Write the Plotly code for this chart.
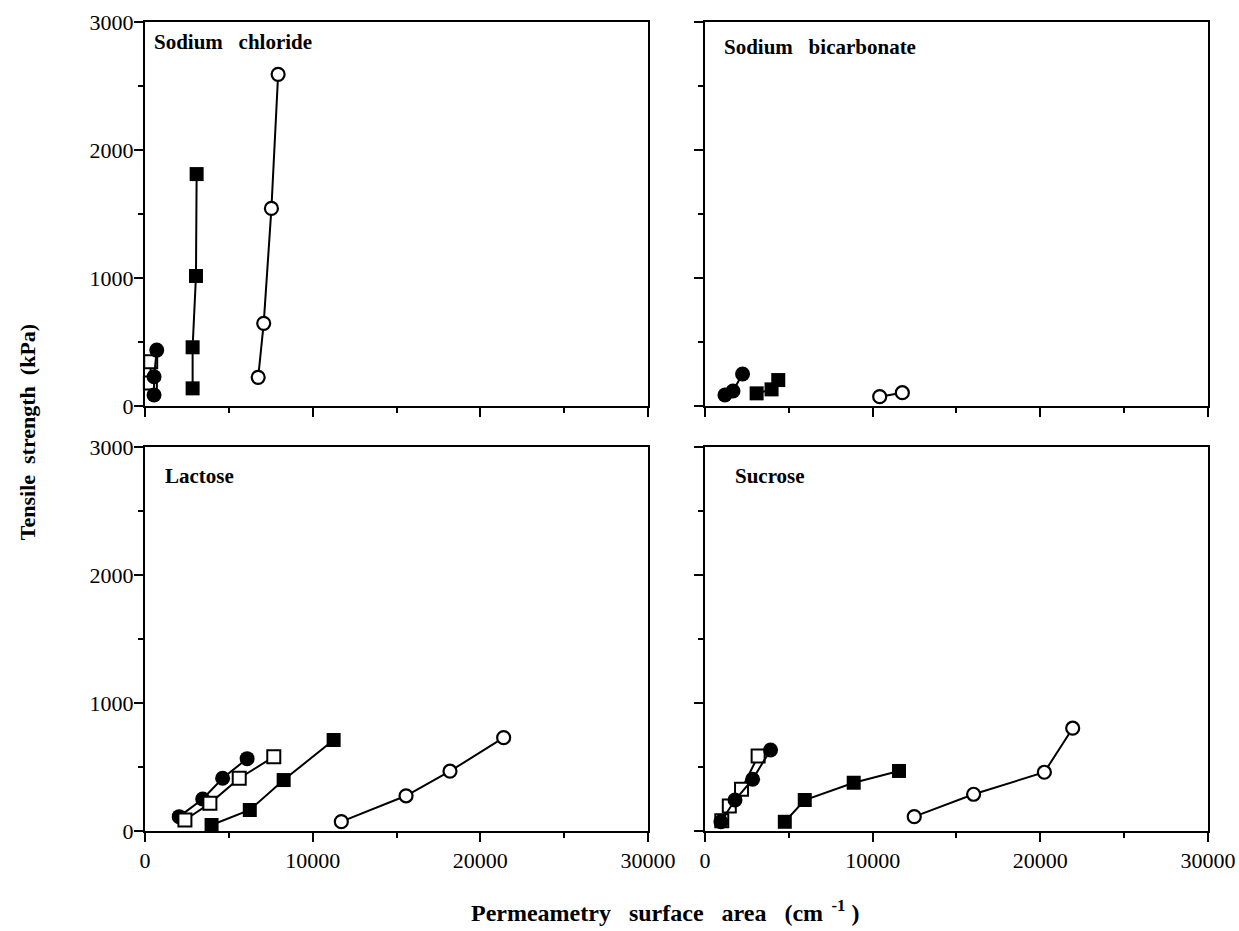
import plotly.graph_objects as go

# ---------------- data ----------------
NB2 = "\u00a0\u00a0"
NB3 = "\u00a0\u00a0\u00a0"
panel_titles = ["Sodium" + NB3 + "chloride", "Sodium" + NB3 + "bicarbonate", "Lactose", "Sucrose"]

# Sodium chloride
nacl_fc_x = [540, 540, 700]
nacl_fc_y = [86, 229, 437]
nacl_os_x = [320, 340]
nacl_os_y = [180, 346]
nacl_fs_x = [2840, 2840, 3040, 3080]
nacl_fs_y = [138, 459, 1016, 1812]
nacl_oc_x = [6750, 7080, 7540, 7940]
nacl_oc_y = [224, 646, 1544, 2591]

# Sodium bicarbonate
bic_fc_x = [1190, 1670, 2240]
bic_fc_y = [86, 117, 250]
bic_fs_x = [3080, 3970, 4370]
bic_fs_y = [99, 130, 203]
bic_oc_x = [10420, 11770]
bic_oc_y = [73, 104]

# Lactose
lac_fc_x = [2040, 3440, 4630, 6090]
lac_fc_y = [112, 250, 412, 565]
lac_os_x = [2380, 3870, 5620, 7680]
lac_os_y = [86, 216, 412, 580]
lac_fs_x = [3970, 6250, 8270, 11250]
lac_fs_y = [47, 164, 398, 711]
lac_oc_x = [11710, 15570, 18190, 21390]
lac_oc_y = [73, 275, 467, 729]

# Sucrose
suc_fc_x = [950, 1790, 2840, 3910]
suc_fc_y = [72, 242, 404, 633]
suc_os_x = [1000, 1450, 2180, 3170]
suc_os_y = [80, 195, 326, 586]
suc_fs_x = [4760, 5950, 8870, 11570]
suc_fs_y = [72, 242, 377, 469]
suc_oc_x = [12480, 16020, 20240, 21930]
suc_oc_y = [112, 287, 459, 803]

x_ticks = [0, 10000, 20000, 30000]
x_ticktext = ["0", "10000", "20000", "30000"]
y_ticks = [0, 1000, 2000, 3000]
y_ticktext = ["0", "1000", "2000", "3000"]
x_minor = [5000, 15000, 25000]
y_minor = [500, 1500, 2500]

# ---------------- styles ----------------
STYLES = {
    "oc": dict(symbol="circle", size=13, color="white", line=dict(color="black", width=2.2)),
    "os": dict(symbol="square", size=13, color="white", line=dict(color="black", width=2)),
    "fs": dict(symbol="square", size=14, color="black", line=dict(color="black", width=0)),
    "fc": dict(symbol="circle", size=15, color="black", line=dict(color="black", width=0)),
}

fig = go.Figure()

panels = [
    ("x", "y", [("oc", nacl_oc_x, nacl_oc_y), ("fs", nacl_fs_x, nacl_fs_y),
                ("os", nacl_os_x, nacl_os_y), ("fc", nacl_fc_x, nacl_fc_y)]),
    ("x2", "y2", [("oc", bic_oc_x, bic_oc_y), ("fs", bic_fs_x, bic_fs_y),
                  ("fc", bic_fc_x, bic_fc_y)]),
    ("x3", "y3", [("oc", lac_oc_x, lac_oc_y), ("fs", lac_fs_x, lac_fs_y),
                  ("fc", lac_fc_x, lac_fc_y), ("os", lac_os_x, lac_os_y)]),
    ("x4", "y4", [("oc", suc_oc_x, suc_oc_y), ("fs", suc_fs_x, suc_fs_y),
                  ("os", suc_os_x, suc_os_y), ("fc", suc_fc_x, suc_fc_y)]),
]

for xa, ya, series in panels:
    for key, xs, ys in series:
        fig.add_trace(go.Scatter(
            x=xs, y=ys, mode="lines+markers", xaxis=xa, yaxis=ya,
            line=dict(color="black", width=2),
            marker=STYLES[key], showlegend=False, hoverinfo="skip",
            cliponaxis=False,
        ))

TICKFONT = dict(family="Liberation Serif", size=22, color="black")


def xaxis(domain, anchor, labels):
    return dict(
        domain=domain, anchor=anchor, range=[0, 30000],
        tickmode="array", tickvals=x_ticks, ticktext=x_ticktext,
        showticklabels=labels, automargin=False,
        ticks="outside", ticklen=9, tickwidth=2, tickcolor="black",
        minor=dict(tickmode="array", tickvals=x_minor, ticks="outside",
                   ticklen=5, tickwidth=2, tickcolor="black"),
        showline=True, linewidth=2, linecolor="black", mirror=True,
        showgrid=False, zeroline=False, tickfont=TICKFONT,
    )


def yaxis(domain, anchor, labels):
    return dict(
        domain=domain, anchor=anchor, range=[0, 3000],
        tickmode="array", tickvals=y_ticks, ticktext=y_ticktext,
        showticklabels=labels, automargin=False,
        ticks="outside", ticklen=9, tickwidth=2, tickcolor="black",
        minor=dict(tickmode="array", tickvals=y_minor, ticks="outside",
                   ticklen=5, tickwidth=2, tickcolor="black"),
        showline=True, linewidth=2, linecolor="black", mirror=True,
        showgrid=False, zeroline=False, tickfont=TICKFONT,
        ticklabelstandoff=-4,
    )


XL = [0.0, 0.4732]
XR = [0.5268, 1.0]
YT = [0.5253, 1.0]
YB = [0.0, 0.4747]

fig.update_layout(
    width=1239, height=931,
    margin=dict(l=145, r=31, t=22, b=100),
    paper_bgcolor="white", plot_bgcolor="white",
    xaxis=xaxis(XL, "y", False), yaxis=yaxis(YT, "x", True),
    xaxis2=xaxis(XR, "y2", False), yaxis2=yaxis(YT, "x2", False),
    xaxis3=xaxis(XL, "y3", True), yaxis3=yaxis(YB, "x3", True),
    xaxis4=xaxis(XR, "y4", True), yaxis4=yaxis(YB, "x4", False),
)

LABFONT = dict(family="Liberation Serif", size=21, color="black")
label_pos = [("x", "y", 0.014, 0.948), ("x2", "y2", 0.034, 0.935),
             ("x3", "y3", 0.036, 0.924), ("x4", "y4", 0.056, 0.924)]
for title, (xa, ya, fx, fy) in zip(panel_titles, label_pos):
    fig.add_annotation(text="<b>" + title + "</b>", xref=xa + " domain", yref=ya + " domain",
                       x=fx, y=fy, xanchor="left", yanchor="middle", showarrow=False,
                       font=LABFONT)

fig.add_annotation(text="<b>Tensile" + NB2 + "strength" + NB2 + "(kPa)</b>", xref="paper", yref="paper",
                   x=-0.111, y=0.493, textangle=-90, showarrow=False,
                   xanchor="center", yanchor="middle",
                   font=dict(family="Liberation Serif", size=22, color="black"))
fig.add_annotation(text="<b>Permeametry" + NB3 + "surface" + NB3 + "area" + NB3
                        + "(cm<sup>\u00a0\u00a0-1</sup>\u00a0)</b>",
                   xref="paper", yref="paper",
                   x=0.489, y=-0.099, showarrow=False,
                   xanchor="center", yanchor="middle",
                   font=dict(family="Liberation Serif", size=24, color="black"))

fig.write_html("out.html")
